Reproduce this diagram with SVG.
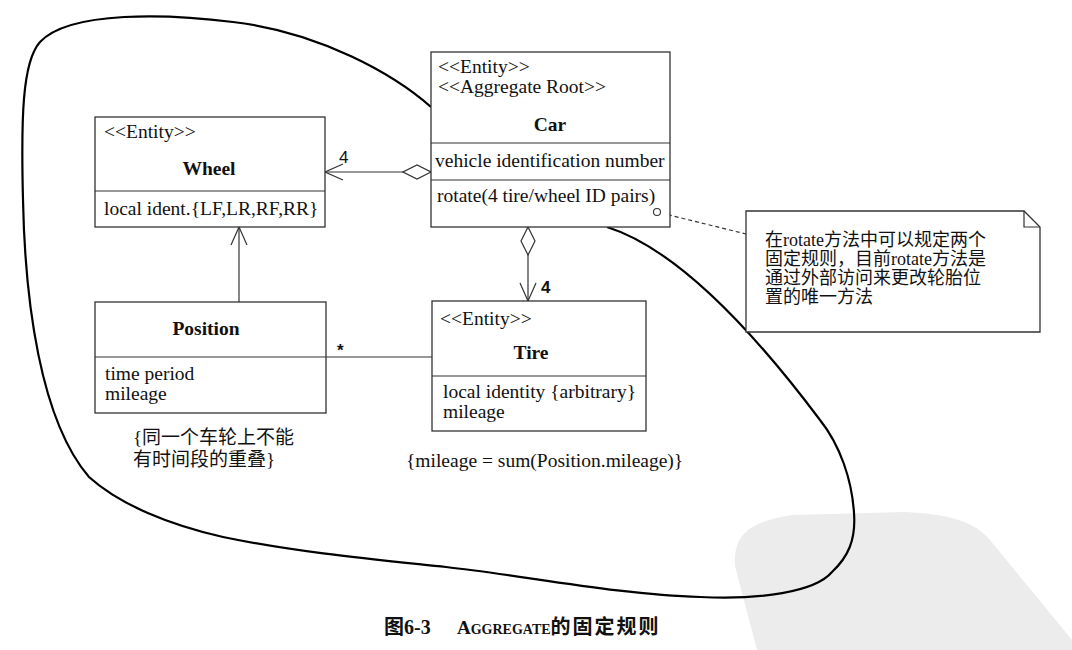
<svg xmlns="http://www.w3.org/2000/svg" width="1072" height="650" viewBox="0 0 1072 650">
<style>
  .box { fill: #ffffff; stroke: #333333; stroke-width: 1.3; }
  .sep { stroke: #333333; stroke-width: 1.2; fill: none; }
  .t { font-family: "Liberation Serif", "Noto Sans CJK SC", serif; font-size: 19.5px; fill: #111111; }
  .b { font-weight: bold; text-anchor: middle; }
  .cjk { font-family: "Liberation Serif", "Noto Sans CJK SC", serif; font-size: 19px; fill: #111111; }
  .note { font-family: "Liberation Serif", "Noto Sans CJK SC", serif; font-size: 18px; fill: #111111; }
  .lbl { font-family: "Liberation Sans", sans-serif; font-size: 17px; fill: #111111; }
  .conn { stroke: #333333; stroke-width: 1.2; fill: none; }
  .blob { stroke: #000000; stroke-width: 2.2; fill: none; }
</style>
<defs>
  <marker id="open" markerUnits="userSpaceOnUse" markerWidth="20" markerHeight="18" viewBox="0 0 20 18" refX="19" refY="9" orient="auto">
    <path d="M1,1 L19,9 L1,17" fill="none" stroke="#333333" stroke-width="1.2"/>
  </marker>
  <marker id="dia" markerUnits="userSpaceOnUse" markerWidth="30" markerHeight="16" viewBox="0 0 30 16" refX="1" refY="8" orient="auto">
    <path d="M1,8 L15,1 L29,8 L15,15 Z" fill="#ffffff" stroke="#333333" stroke-width="1.2"/>
  </marker>
</defs>

<rect x="0" y="0" width="1072" height="650" fill="#ffffff"/>

<!-- watermark -->
<path d="M735,566 C733,535 748,522 792,515 L905,512 C950,514 975,522 990,540 L1072,640 L1072,650 L757,650 Z" fill="#ececec"/>

<!-- aggregate boundary -->
<path class="blob" d="M431,107 C395,75 320,32 233,22 C170,14 70,10 40,42 C22,62 21,120 23,200 C25,300 40,420 89,477 C120,505 170,525 223,537 C300,553 380,560 446,567 C520,575 620,595 700,597 C760,600 815,592 832,572 C848,557 856,540 854,513 C852,480 840,445 820,420 C760,340 680,250 607,227"/>

<g id="connectors">
  <path class="conn" d="M431,172 L325,172" marker-start="url(#dia)" marker-end="url(#open)"/>
  <path class="conn" d="M528,227 L528,301" marker-start="url(#dia)" marker-end="url(#open)"/>
  <path class="conn" d="M239,302 L239,227" marker-end="url(#open)"/>
  <path class="conn" d="M326,357 L432,357"/>
  <path class="conn" d="M661,213 L746,234" stroke-dasharray="4 3"/>
  <text class="lbl" x="339" y="163">4</text>
  <text class="lbl" x="541" y="293" font-weight="bold">4</text>
  <text class="lbl" x="337" y="356" font-weight="bold">*</text>
</g>

<g id="car">
  <rect class="box" x="431" y="52" width="239" height="175"/>
  <line class="sep" x1="431" y1="143" x2="670" y2="143"/>
  <line class="sep" x1="431" y1="180" x2="670" y2="180"/>
  <text class="t" x="438" y="73">&lt;&lt;Entity&gt;&gt;</text>
  <text class="t" x="438" y="93">&lt;&lt;Aggregate Root&gt;&gt;</text>
  <text class="t b" x="550" y="131">Car</text>
  <text class="t" x="435" y="167">vehicle identification number</text>
  <text class="t" x="437" y="202">rotate(4 tire/wheel ID pairs)</text>
  <circle cx="657" cy="212" r="3.5" fill="#ffffff" stroke="#333333" stroke-width="1.1"/>
</g>

<g id="wheel">
  <rect class="box" x="95" y="117" width="230" height="110"/>
  <line class="sep" x1="95" y1="191" x2="325" y2="191"/>
  <text class="t" x="104" y="138">&lt;&lt;Entity&gt;&gt;</text>
  <text class="t b" x="209" y="175">Wheel</text>
  <text class="t" x="104" y="215">local ident.{LF,LR,RF,RR}</text>
</g>

<g id="position">
  <rect class="box" x="95" y="302" width="231" height="111"/>
  <line class="sep" x1="95" y1="357" x2="326" y2="357"/>
  <text class="t b" x="206" y="335">Position</text>
  <text class="t" x="105" y="380">time period</text>
  <text class="t" x="105" y="400">mileage</text>
</g>

<g id="tire">
  <rect class="box" x="432" y="301" width="214" height="130"/>
  <line class="sep" x1="432" y1="376" x2="646" y2="376"/>
  <text class="t" x="440" y="325">&lt;&lt;Entity&gt;&gt;</text>
  <text class="t b" x="531" y="359">Tire</text>
  <text class="t" x="443" y="398">local identity {arbitrary}</text>
  <text class="t" x="443" y="418">mileage</text>
</g>

<g id="constraint-position">
  <text class="cjk" x="133" y="444">{同一个车轮上不能</text>
  <text class="cjk" x="133" y="466">有时间段的重叠}</text>
</g>

<g id="constraint-tire">
  <text class="t" x="406" y="467">{mileage = sum(Position.mileage)}</text>
</g>

<g id="note">
  <path class="box" d="M746,211 L1024,211 L1040,227 L1040,332 L746,332 Z"/>
  <path class="sep" d="M1024,211 L1024,227 L1040,227"/>
  <text class="note" x="765" y="246">在rotate方法中可以规定两个</text>
  <text class="note" x="765" y="265">固定规则，目前rotate方法是</text>
  <text class="note" x="765" y="284">通过外部访问来更改轮胎位</text>
  <text class="note" x="765" y="303">置的唯一方法</text>
</g>

<g id="caption">
  <text x="384" y="634" font-family="Liberation Serif, Noto Sans CJK SC, serif" font-size="20" font-weight="bold" fill="#111111">图6-3<tspan x="457" font-size="19">A</tspan><tspan font-size="14">GGREGATE</tspan><tspan font-size="20" letter-spacing="2">的固定规则</tspan></text>
</g>
</svg>
